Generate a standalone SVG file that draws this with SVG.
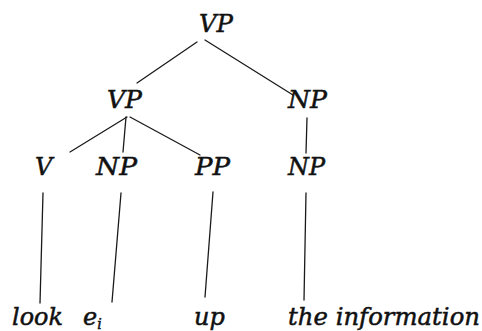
<svg xmlns="http://www.w3.org/2000/svg" width="482" height="331" viewBox="0 0 482 331">
  <style>
    .lbl { font-family: "DejaVu Serif", serif; font-style: italic; font-size: 24px; fill: #111; stroke: #111; stroke-width: 0.5; }
    .sub { font-size: 14px; }
    .edge { stroke: #1a1a1a; stroke-width: 1.3; fill: none; stroke-linecap: round; }
  </style>
  <rect width="482" height="331" fill="#fff"/>

  <!-- tree branches -->
  <g id="connectors">
    <line class="edge" x1="197" y1="42" x2="137" y2="83"/>
    <line class="edge" x1="205" y1="40" x2="293" y2="95"/>
    <line class="edge" x1="127" y1="117" x2="70" y2="152"/>
    <line class="edge" x1="126" y1="117" x2="123" y2="152"/>
    <line class="edge" x1="130" y1="117" x2="200" y2="155"/>
    <line class="edge" x1="307" y1="118" x2="306" y2="153"/>
    <line class="edge" x1="43" y1="193" x2="40" y2="303"/>
    <line class="edge" x1="121" y1="193" x2="112" y2="302"/>
    <line class="edge" x1="213" y1="192" x2="205" y2="297"/>
    <line class="edge" x1="306" y1="193" x2="304" y2="300"/>
  </g>

  <g id="vp-root"><text class="lbl" x="199" y="32" textLength="34" lengthAdjust="spacingAndGlyphs">VP</text></g>
  <g id="vp"><text class="lbl" x="107" y="108" textLength="35" lengthAdjust="spacingAndGlyphs">VP</text></g>
  <g id="np-obj"><text class="lbl" x="288" y="108" textLength="39" lengthAdjust="spacingAndGlyphs">NP</text></g>
  <g id="v"><text class="lbl" x="35" y="175">V</text></g>
  <g id="np-trace"><text class="lbl" x="96" y="175" textLength="41" lengthAdjust="spacingAndGlyphs">NP</text></g>
  <g id="pp"><text class="lbl" x="195" y="175" textLength="35" lengthAdjust="spacingAndGlyphs">PP</text></g>
  <g id="np-inner"><text class="lbl" x="288" y="175" textLength="37" lengthAdjust="spacingAndGlyphs">NP</text></g>
  <g id="look"><text class="lbl" x="12" y="325" textLength="51" lengthAdjust="spacingAndGlyphs">look</text></g>
  <g id="trace"><text class="lbl" x="83" y="325">e<tspan class="sub" dy="4">i</tspan></text></g>
  <g id="up"><text class="lbl" x="194" y="325">up</text></g>
  <g id="the-information"><text class="lbl" x="288" y="325" textLength="192" lengthAdjust="spacingAndGlyphs">the information</text></g>
</svg>
